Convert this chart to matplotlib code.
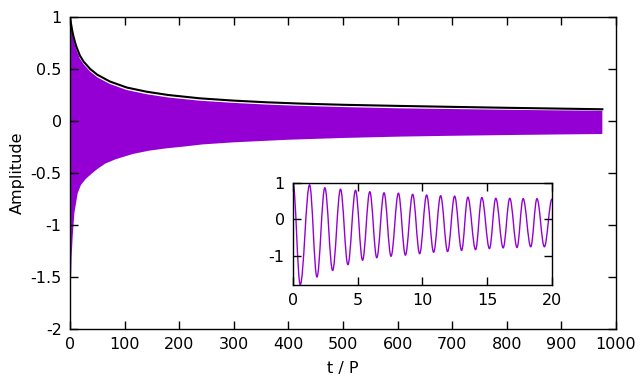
import matplotlib
matplotlib.use("Agg")
import matplotlib.pyplot as plt
import numpy as np
from matplotlib.path import Path
from matplotlib.patches import PathPatch

plt.rcParams["font.family"] = "DejaVu Sans"
plt.rcParams["axes.unicode_minus"] = False

VIOLET = "#9400d3"

# envelope (black curve)
env_t = [0, 2, 4, 6, 9, 12, 18, 25, 37, 50, 73, 104, 140, 180, 238, 300, 360,
         420, 500, 604, 700, 800, 900, 975]
env_y = [1.0, 0.93, 0.87, 0.82, 0.76, 0.71, 0.63, 0.57, 0.50, 0.445, 0.38,
         0.322, 0.282, 0.25, 0.218, 0.196, 0.18, 0.168, 0.156, 0.145, 0.136,
         0.127, 0.119, 0.113]

# outer edges of the dense oscillation band
top_t = env_t
top_y = [1.0, 0.90, 0.84, 0.79, 0.73, 0.68, 0.60, 0.545, 0.475, 0.42, 0.356,
         0.298, 0.258, 0.226, 0.195, 0.174, 0.158, 0.146, 0.134, 0.122, 0.115,
         0.108, 0.102, 0.099]
bot_t = [0, 1, 1.8, 3, 4.9, 8, 11, 14, 20, 29, 40, 48, 54, 65, 84, 115, 145,
         176, 206, 243, 300, 400, 500, 604, 700, 800, 900, 975]
bot_y = [-1.76, -1.6, -1.53, -1.3, -1.11, -0.885, -0.79, -0.695, -0.615, -0.556,
         -0.505, -0.47, -0.447, -0.408, -0.367, -0.317, -0.285, -0.263, -0.247,
         -0.225, -0.205, -0.18, -0.163, -0.15, -0.142, -0.135, -0.129, -0.125]

# inset: successive extrema of the signal for t/P in [0, 20]
ext_t = [0, 0.56, 1.28, 1.85, 2.46, 3.06, 3.67, 4.24, 4.83, 5.37,
         5.93, 6.47, 7.03, 7.57, 8.14, 8.68, 9.24, 9.78, 10.32, 10.86,
         11.40, 11.94, 12.48, 13.02, 13.50, 14.10, 14.58, 15.17, 15.66, 16.23,
         16.74, 17.30, 17.77, 18.36, 18.84, 19.41, 20.0]
ext_y = [1.0, -1.79, 0.95, -1.58, 0.87, -1.40, 0.83, -1.24, 0.80, -1.12,
         0.76, -1.05, 0.73, -1.01, 0.72, -0.98, 0.69, -0.94, 0.67, -0.90,
         0.65, -0.88, 0.64, -0.85, 0.61, -0.83, 0.60, -0.80, 0.58, -0.78,
         0.58, -0.77, 0.57, -0.75, 0.57, -0.75, 0.56]

fig = plt.figure(figsize=(6.4, 3.84), dpi=100)
ax = fig.add_axes([0.1094, 0.1432, 0.8531, 0.8125])

# band polygon: upper edge left->right, lower edge right->left
ax.fill(np.concatenate([top_t, bot_t[::-1]]),
        np.concatenate([top_y, bot_y[::-1]]), color=VIOLET, lw=0)
ax.plot(env_t, env_y, color="black", lw=1.5)

ax.set_xlim(0, 1000)
ax.set_ylim(-2, 1)
ax.set_xticks(np.arange(0, 1001, 100))
ax.set_yticks(np.arange(-2, 1.01, 0.5))
ax.set_yticklabels(["-2", "-1.5", "-1", "-0.5", "0", "0.5", "1"])
ax.set_xlabel("t / P", fontsize=11.5, labelpad=6)
ax.set_ylabel("Amplitude", fontsize=11.5, labelpad=4)


def style(a):
    a.tick_params(direction="in", length=6, width=1, top=True, right=True,
                  labelsize=11.5, pad=6)
    for s in a.spines.values():
        s.set_linewidth(1)


style(ax)

# inset
axi = fig.add_axes([0.4578, 0.2578, 0.4047, 0.2656])
verts = [(ext_t[0], ext_y[0])]
codes = [Path.MOVETO]
for i in range(1, len(ext_t)):
    t0, y0 = ext_t[i - 1], ext_y[i - 1]
    t1, y1 = ext_t[i], ext_y[i]
    dt = t1 - t0
    verts += [(t0 + 0.364 * dt, y0), (t1 - 0.364 * dt, y1), (t1, y1)]
    codes += [Path.CURVE4] * 3
axi.add_patch(PathPatch(Path(verts, codes), facecolor="none",
                        edgecolor=VIOLET, lw=1.0))
axi.set_xlim(0, 20)
axi.set_ylim(-1.8, 1)
axi.set_xticks([0, 5, 10, 15, 20])
axi.set_yticks([-1, 0, 1])
style(axi)

fig.savefig("out.png", dpi=100)
